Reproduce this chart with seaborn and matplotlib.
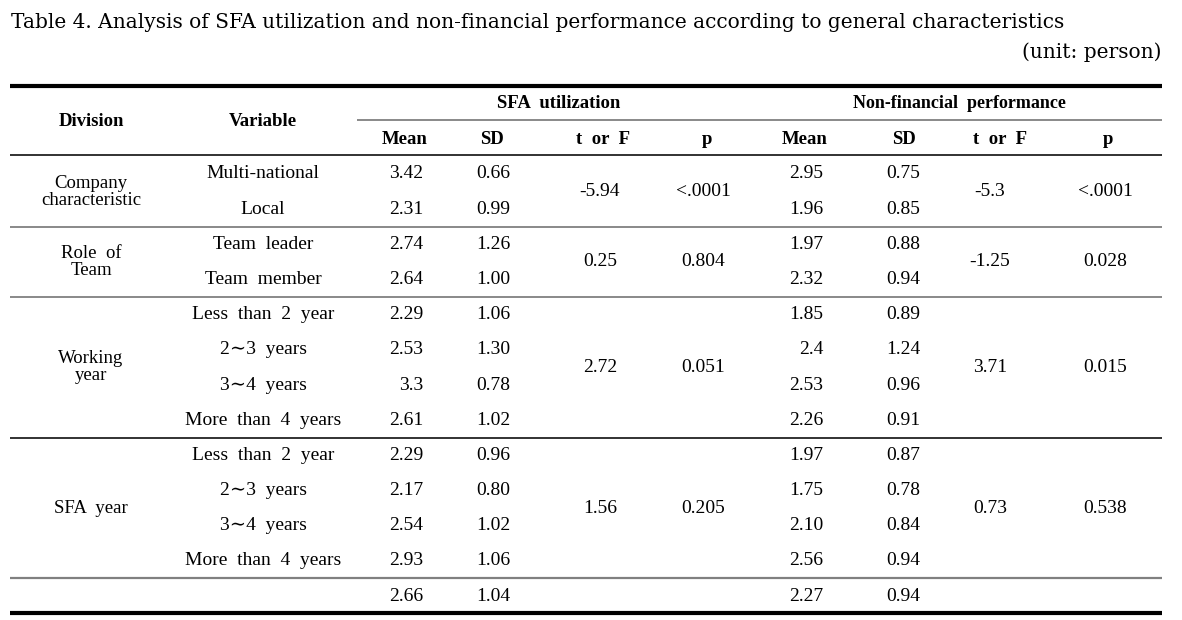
import matplotlib
matplotlib.use("Agg")
import matplotlib.pyplot as plt
import seaborn as sns

# ==========================================
# DATA
# ==========================================
title = "Table 4. Analysis of SFA utilization and non-financial performance according to general characteristics"
unit_label = "(unit: person)"

groups = ["Company\ncharacteristic", "Role  of\nTeam", "Working\nyear", "SFA  year", ""]
group_sizes = [2, 2, 4, 4, 1]

variables = ["Multi-national", "Local",
             "Team  leader", "Team  member",
             "Less  than  2  year", "2∼3  years", "3∼4  years", "More  than  4  years",
             "Less  than  2  year", "2∼3  years", "3∼4  years", "More  than  4  years",
             ""]

sfa_mean = ["3.42", "2.31", "2.74", "2.64", "2.29", "2.53", "3.3", "2.61",
            "2.29", "2.17", "2.54", "2.93", "2.66"]
sfa_sd = ["0.66", "0.99", "1.26", "1.00", "1.06", "1.30", "0.78", "1.02",
          "0.96", "0.80", "1.02", "1.06", "1.04"]
sfa_t = ["-5.94", "0.25", "2.72", "1.56", ""]
sfa_p = ["<.0001", "0.804", "0.051", "0.205", ""]

nf_mean = ["2.95", "1.96", "1.97", "2.32", "1.85", "2.4", "2.53", "2.26",
           "1.97", "1.75", "2.10", "2.56", "2.27"]
nf_sd = ["0.75", "0.85", "0.88", "0.94", "0.89", "1.24", "0.96", "0.91",
         "0.87", "0.78", "0.84", "0.94", "0.94"]
nf_t = ["-5.3", "-1.25", "3.71", "0.73", ""]
nf_p = ["<.0001", "0.028", "0.015", "0.538", ""]

group_headers = ["SFA  utilization", "Non-financial  performance"]
sub_headers = ["Mean", "SD", "t  or  F", "p"]

# ==========================================
# LAYOUT (pixel coordinates)
# ==========================================
W, H = 1182, 620
X_LEFT, X_RIGHT = 10, 1162
X_DIV, X_VAR = 91, 263
X_SFA = [423, 510, 600, 703]      # mean/sd right edges, t/p centers
X_NF = [823, 920, 990, 1105]
ROW0, PITCH = 174, 35.17

sns.set_theme(style="white")
plt.rcParams["font.family"] = ["Liberation Serif", "DejaVu Serif"]
plt.rcParams["text.color"] = "black"

fig = plt.figure(figsize=(W / 100, H / 100), dpi=100)
ax = fig.add_axes([0, 0, 1, 1])
ax.set_xlim(0, W)
ax.set_ylim(H, 0)
ax.axis("off")

FS = 14
HFS = 13.5

# title
ax.text(11, 23, title, fontsize=14.5, family="DejaVu Serif", ha="left", va="center")
ax.text(1161, 52, unit_label, fontsize=14.5, family="DejaVu Serif", ha="right", va="center")

# header
ax.hlines(86, X_LEFT, X_RIGHT, color="black", lw=3.0)
ax.text(X_DIV, 121, "Division", fontsize=HFS, fontweight="bold", ha="center", va="center")
ax.text(X_VAR, 121, "Variable", fontsize=HFS, fontweight="bold", ha="center", va="center")
ax.text(559, 103, group_headers[0], fontsize=HFS, fontweight="bold", ha="center", va="center")
ax.text(959, 103, group_headers[1], fontsize=13, fontweight="bold", ha="center", va="center")
ax.hlines(120, 357, X_RIGHT, color="#808080", lw=1.3)
sub_x = [405, 492, 603, 707, 805, 904, 1000, 1108]
for i, x in enumerate(sub_x):
    ax.text(x, 139, sub_headers[i % 4], fontsize=HFS, fontweight="bold", ha="center", va="center")
ax.hlines(155, X_LEFT, X_RIGHT, color="#222222", lw=1.3)

# body
row_y = [ROW0 + i * PITCH for i in range(len(variables))]
for i, y in enumerate(row_y):
    ax.text(X_VAR, y, variables[i], fontsize=FS, ha="center", va="center")
    ax.text(X_SFA[0], y, sfa_mean[i], fontsize=FS, ha="right", va="center")
    ax.text(X_SFA[1], y, sfa_sd[i], fontsize=FS, ha="right", va="center")
    ax.text(X_NF[0], y, nf_mean[i], fontsize=FS, ha="right", va="center")
    ax.text(X_NF[1], y, nf_sd[i], fontsize=FS, ha="right", va="center")

sep_colors = ["#808080", "#808080", "#222222", "#808080"]
start = 0
for g, n in enumerate(group_sizes):
    ys = row_y[start:start + n]
    yc = (ys[0] + ys[-1]) / 2
    ax.text(X_DIV, yc, groups[g], fontsize=13.5, ha="center", va="center", linespacing=1.0)
    ax.text(X_SFA[2], yc, sfa_t[g], fontsize=FS, ha="center", va="center")
    ax.text(X_SFA[3], yc, sfa_p[g], fontsize=FS, ha="center", va="center")
    ax.text(X_NF[2], yc, nf_t[g], fontsize=FS, ha="center", va="center")
    ax.text(X_NF[3], yc, nf_p[g], fontsize=FS, ha="center", va="center")
    start += n
    if g < len(sep_colors):
        ysep = (row_y[start - 1] + row_y[start]) / 2
        ax.hlines(ysep, X_LEFT, X_RIGHT, color=sep_colors[g], lw=1.6 if g == 3 else 1.3)

ax.hlines(613, X_LEFT, X_RIGHT, color="black", lw=3.0)

fig.savefig("out.png", dpi=100)
